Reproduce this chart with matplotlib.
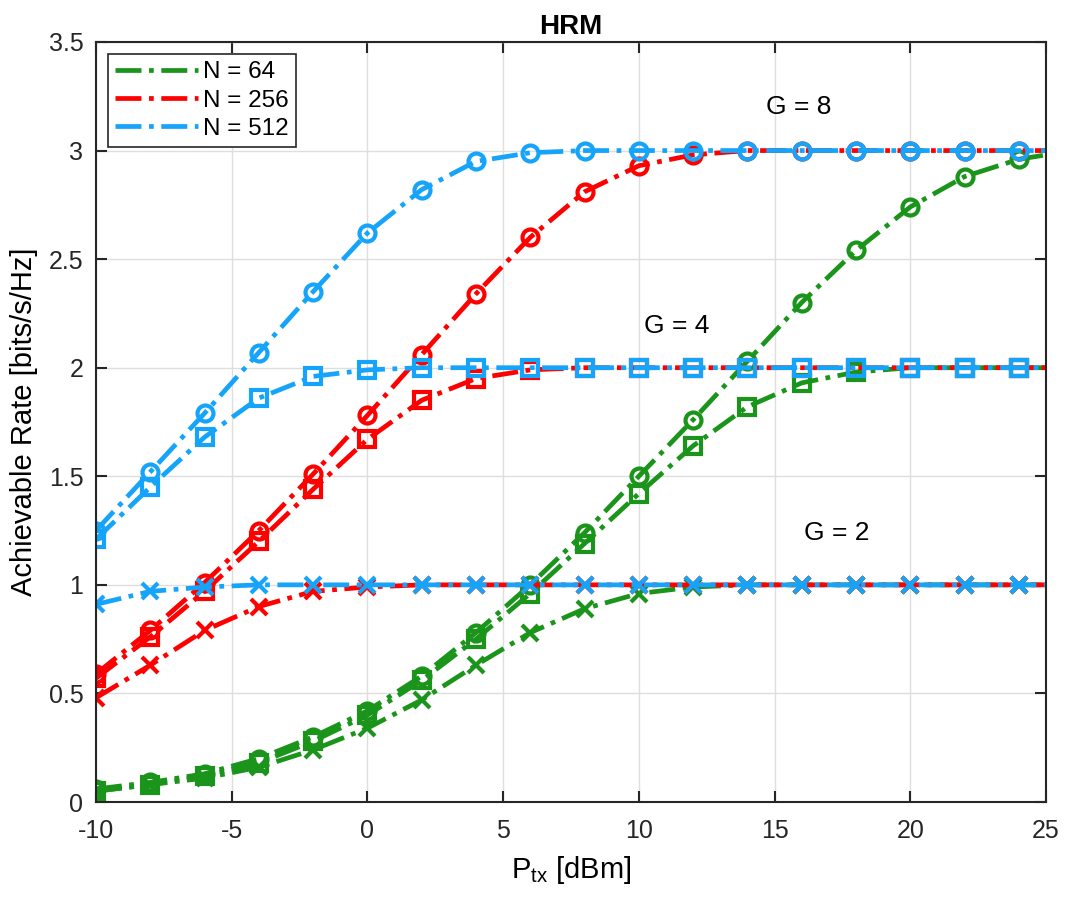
"""Achievable rate vs transmit power for HRM, several N and G."""

import numpy as np
import matplotlib
matplotlib.use("Agg")
import matplotlib.pyplot as plt
from matplotlib.lines import Line2D

plt.rcParams["font.family"] = ["Liberation Sans", "DejaVu Sans"]
plt.rcParams["mathtext.fontset"] = "custom"
plt.rcParams["mathtext.rm"] = "Liberation Sans"
plt.rcParams["mathtext.it"] = "Liberation Sans:italic"
plt.rcParams["axes.unicode_minus"] = False

# Transmit power [dBm]; last point (25) has no marker
p_tx = [-10, -8, -6, -4, -2, 0, 2, 4, 6, 8, 10, 12, 14, 16, 18, 20, 22, 24, 25]

# N = 64
n64_g8 = [0.06, 0.09, 0.13, 0.20, 0.30, 0.42, 0.58, 0.78, 1.00, 1.24, 1.50, 1.76,
          2.03, 2.30, 2.54, 2.74, 2.88, 2.96, 2.98]
n64_g4 = [0.05, 0.08, 0.12, 0.18, 0.28, 0.40, 0.56, 0.75, 0.96, 1.19, 1.42, 1.64,
          1.82, 1.93, 1.98, 2.00, 2.00, 2.00, 2.00]
n64_g2 = [0.05, 0.08, 0.11, 0.16, 0.24, 0.34, 0.47, 0.63, 0.78, 0.89, 0.96, 0.99,
          1.00, 1.00, 1.00, 1.00, 1.00, 1.00, 1.00]

# N = 256
n256_g8 = [0.59, 0.79, 1.01, 1.25, 1.51, 1.78, 2.06, 2.34, 2.60, 2.81, 2.93, 2.98,
           3.00, 3.00, 3.00, 3.00, 3.00, 3.00, 3.00]
n256_g4 = [0.57, 0.76, 0.97, 1.20, 1.44, 1.67, 1.85, 1.95, 1.99, 2.00, 2.00, 2.00,
           2.00, 2.00, 2.00, 2.00, 2.00, 2.00, 2.00]
n256_g2 = [0.48, 0.63, 0.79, 0.90, 0.97, 0.99, 1.00, 1.00, 1.00, 1.00, 1.00, 1.00,
           1.00, 1.00, 1.00, 1.00, 1.00, 1.00, 1.00]

# N = 512
n512_g8 = [1.25, 1.52, 1.79, 2.07, 2.35, 2.62, 2.82, 2.95, 2.99, 3.00, 3.00, 3.00,
           3.00, 3.00, 3.00, 3.00, 3.00, 3.00, 3.00]
n512_g4 = [1.21, 1.45, 1.68, 1.86, 1.96, 1.99, 2.00, 2.00, 2.00, 2.00, 2.00, 2.00,
           2.00, 2.00, 2.00, 2.00, 2.00, 2.00, 2.00]
n512_g2 = [0.91, 0.97, 0.99, 1.00, 1.00, 1.00, 1.00, 1.00, 1.00, 1.00, 1.00, 1.00,
           1.00, 1.00, 1.00, 1.00, 1.00, 1.00, 1.00]

n_labels = ["N = 64", "N = 256", "N = 512"]
colors = ["#1a941a", "#ff0000", "#16a4fa"]
series = [
    [n64_g8, n64_g4, n64_g2],
    [n256_g8, n256_g4, n256_g2],
    [n512_g8, n512_g4, n512_g2],
]
markers = ["o", "s", "x"]
dashdot = (0, (5.5, 1.6, 1, 1.6))

fig = plt.figure(figsize=(10.65, 8.97), dpi=100)
ax = fig.add_axes([0.0901, 0.1059, 0.8920, 0.8473])

x = np.array(p_tx)
for color, group in zip(colors, series):
    for marker, y in zip(markers, group):
        ax.plot(x, y, linestyle=dashdot, color=color,
                linewidth=3.4, marker=marker, markersize=11.5,
                markeredgewidth=3, markerfacecolor="none",
                markevery=slice(0, 18))

# Curve group labels
ax.text(15.9, 3.2, "G = 8", fontsize=19, ha="center", va="center")
ax.text(11.4, 2.19, "G = 4", fontsize=19, ha="center", va="center")
ax.text(17.3, 1.24, "G = 2", fontsize=19, ha="center", va="center")

ax.set_xlim(-10, 25)
ax.set_ylim(0, 3.5)
ax.set_xticks(np.arange(-10, 26, 5))
ax.set_yticks(np.arange(0, 3.6, 0.5))
ax.set_yticklabels(["0", "0.5", "1", "1.5", "2", "2.5", "3", "3.5"])
ax.tick_params(direction="in", top=True, right=True, labelsize=18,
               length=8, width=1.5, colors="#262626")
ax.tick_params(axis="x", pad=12)
ax.tick_params(axis="y", pad=9)
ax.grid(True, color="#dedede", linewidth=1)
ax.set_axisbelow(True)
for spine in ax.spines.values():
    spine.set_linewidth(1.5)
    spine.set_color("#262626")

ax.set_xlabel(r"P$_{\rm tx}$ [dBm]", fontsize=21, labelpad=8)
ax.set_ylabel("Achievable Rate [bits/s/Hz]", fontsize=21, labelpad=8)
ax.set_title("HRM", fontsize=20, fontweight="bold", pad=6)

handles = [Line2D([0], [0], color=c, linestyle=dashdot, linewidth=3.4)
           for c in colors]
leg = ax.legend(handles, n_labels, loc="upper left", fontsize=17.5,
                fancybox=False, framealpha=1, edgecolor="#262626",
                handlelength=3.4, handletextpad=0.2, borderaxespad=0.5,
                borderpad=0.3, labelspacing=0.25)
leg.get_frame().set_linewidth(1.2)

fig.savefig("out.png", dpi=100)
plt.close(fig)
